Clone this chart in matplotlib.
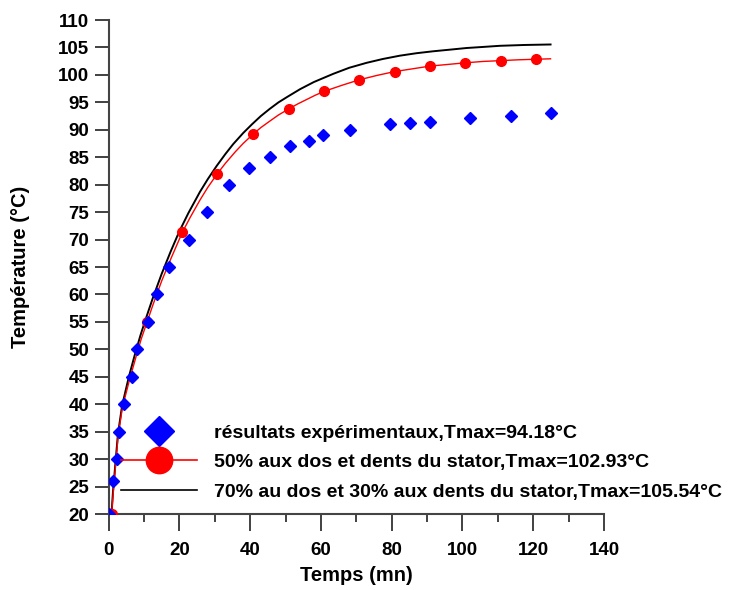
import matplotlib
matplotlib.use("Agg")
import matplotlib.pyplot as plt
from matplotlib.lines import Line2D

plt.rcParams['font.family'] = ['Liberation Sans', 'DejaVu Sans']
plt.rcParams['font.weight'] = 'bold'

# Experimental measurements
exp_t = [0, 1.3, 2.4, 2.9, 4.4, 6.7, 8.1, 11.2, 13.6, 17.1, 22.7, 27.9, 34.1, 39.6,
         45.5, 51.2, 56.5, 60.6, 68.2, 79.6, 85.2, 90.9, 102.2, 113.6, 124.9]
exp_T = [20, 26, 30, 35, 40, 45, 50, 55, 60, 65, 70, 75, 80, 83,
         85, 87, 88, 89, 90, 91, 91.2, 91.5, 92.1, 92.6, 93.1]

# Model: 50% losses in yoke and teeth (computed curve)
m50_t = [0.8, 1.3, 2.1, 2.7, 3.9, 5.9, 7.7, 9.2, 10.8, 12.5, 15.0, 17.5, 20.8, 23.0,
         25.8, 28.0, 30.7, 33.0, 35.8, 38.0, 40.8, 43.0, 45.8, 48.0, 50.9, 53.4,
         55.9, 58.4, 60.9, 65.9, 70.8, 75.8, 80.8, 85.8, 90.8, 95.8, 100.8, 105.8,
         110.9, 115.8, 120.8, 124.9]
m50_T = [20, 24, 30, 34.5, 39.5, 44.5, 48.6, 51.9, 54.9, 58.1, 62.5, 66.4, 71.3, 74.0,
         77.2, 79.5, 82.0, 83.9, 86.0, 87.5, 89.2, 90.4, 91.7, 92.7, 93.8, 94.7,
         95.5, 96.3, 97.0, 98.1, 99.1, 99.9, 100.6, 101.1, 101.6, 101.9, 102.2, 102.45,
         102.6, 102.75, 102.85, 102.93]
# Sampled points of the 50% model shown with markers
m50_pts_t = [0.8, 10.8, 20.8, 30.7, 40.8, 50.9, 60.9, 70.8, 80.8, 90.8, 100.8, 110.9, 120.8]
m50_pts_T = [20, 54.9, 71.3, 82.0, 89.2, 93.8, 97.0, 99.1, 100.6, 101.6, 102.2, 102.6, 102.85]

# Model: 70% yoke / 30% teeth
m70_t = [0.8, 1.2, 2.0, 2.6, 3.8, 5.7, 7.5, 9.0, 10.4, 12.5, 15.0, 17.5, 19.9, 22.5,
         25.8, 28.0, 30.5, 33.0, 35.2, 38.0, 40.5, 43.0, 45.5, 48.0, 50.5, 54.1,
         58.0, 63.5, 68.0, 72.9, 77.5, 82.3, 87.0, 91.7, 96.5, 101.2, 106.0, 110.6,
         117.5, 124.9]
m70_T = [20, 24, 30, 34.5, 39.8, 45, 49.3, 52.6, 55.4, 59.4, 63.8, 67.8, 71.4, 74.8,
         78.7, 81.0, 83.4, 85.6, 87.4, 89.4, 91.0, 92.5, 93.8, 95.0, 96.0, 97.4,
         98.7, 100.2, 101.3, 102.2, 102.9, 103.5, 103.95, 104.3, 104.6, 104.9, 105.1, 105.3,
         105.45, 105.54]

labels = ["résultats expérimentaux,Tmax=94.18°C",
          "50% aux dos et dents du stator,Tmax=102.93°C",
          "70% au dos et 30% aux dents du stator,Tmax=105.54°C"]

fig = plt.figure(figsize=(7.37, 5.90), dpi=100)
ax = fig.add_axes([0.1475, 0.1288, 0.8195 - 0.1475, 0.9661 - 0.1288])

ax.plot(m70_t, m70_T, color='black', lw=1.4, zorder=2)
ax.plot(m50_t, m50_T, color='red', lw=1.0, zorder=3)
ax.plot(m50_pts_t, m50_pts_T, ls='none', marker='o', ms=7, color='red', zorder=4)
ax.plot(exp_t, exp_T, ls='none', marker='D', ms=6.5, color='blue', mec='blue', zorder=5)

ax.set_xlim(0, 140)
ax.set_ylim(20, 110)
ax.set_xticks(range(0, 141, 20))
ax.set_xticks(range(10, 141, 20), minor=True)
ax.set_yticks(range(20, 111, 5))

for s in ['top', 'right']:
    ax.spines[s].set_visible(False)
for s in ['left', 'bottom']:
    ax.spines[s].set_color('#444444')
    ax.spines[s].set_linewidth(1.5)

ax.tick_params(axis='x', which='major', direction='out', length=12, width=1.3,
               color='#333333', labelsize=13.5, pad=8)
ax.tick_params(axis='x', which='minor', direction='out', length=6, width=1.3,
               color='#333333')
ax.tick_params(axis='y', which='major', direction='out', length=10, width=1.3,
               color='#333333', labelsize=13.5, pad=4)
for lbl in ax.get_xticklabels() + ax.get_yticklabels():
    lbl.set_fontweight('bold')

ax.set_xlabel("Temps (mn)", fontsize=14.5, fontweight='bold', labelpad=5)
ax.set_ylabel("Température (°C)", fontsize=14.5, fontweight='bold', labelpad=20)

handles = [
    Line2D([], [], ls='none', marker='D', ms=15, color='blue'),
    Line2D([], [], color='red', lw=1.2, marker='o', ms=19),
    Line2D([], [], color='black', lw=1.2),
]
leg = ax.legend(handles, labels, loc='upper left',
                bbox_to_anchor=(121 / 737, 1 - 424 / 590),
                bbox_transform=fig.transFigure, frameon=False,
                prop={'family': 'Liberation Sans', 'weight': 'bold', 'size': 14},
                handlelength=3.9, handletextpad=0.9, labelspacing=0.62,
                borderpad=0, borderaxespad=0)

fig.savefig("out.png", dpi=100)
